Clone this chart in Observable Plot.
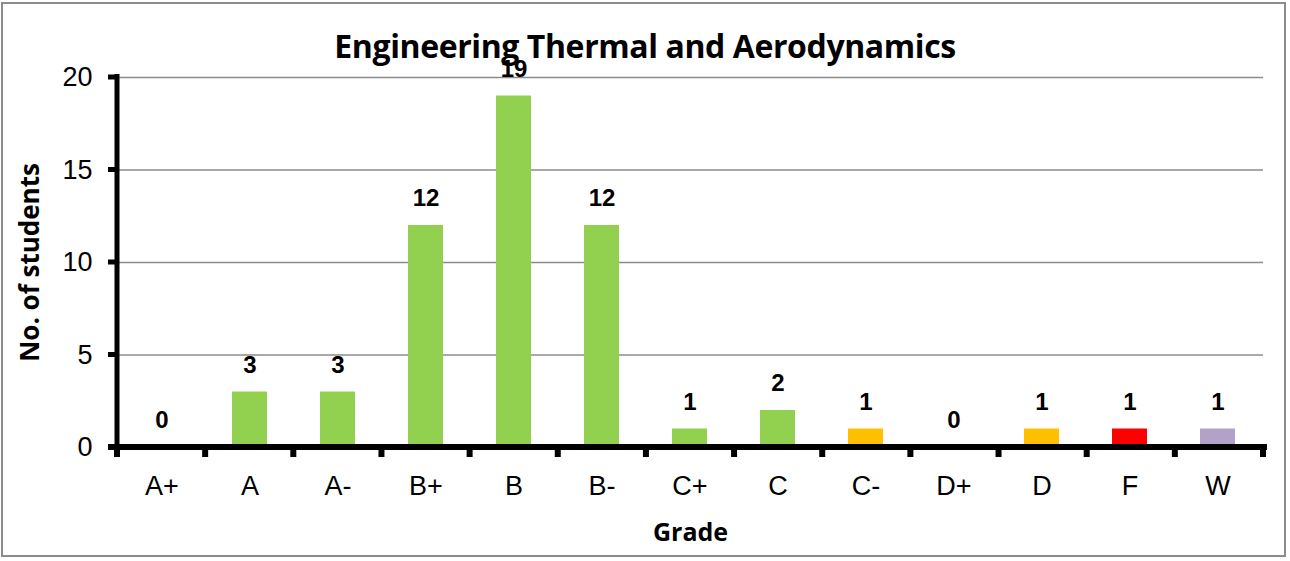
<!DOCTYPE html>
<html>
<head>
<meta charset="utf-8">
<script src="https://cdn.jsdelivr.net/npm/d3@7"></script>
<script src="https://cdn.jsdelivr.net/npm/@observablehq/plot@0.6"></script>
<style>
  html, body { margin: 0; padding: 0; background: #fff; }
  #wrap { position: relative; width: 1290px; height: 561px; }
  #border { position: absolute; left: 1px; top: 2px; width: 1285px; height: 555px; border: 2px solid #8c8c8c; box-sizing: border-box; pointer-events: none; }
  #title { position: absolute; left: 0; width: 1290px; top: 26px; text-align: center; font: bold 32px "Open Sans", sans-serif; letter-spacing: -0.4px; color: #000; line-height: 40px; }
  #chart svg { display: block; }
</style>
</head>
<body>
<div id="wrap">
  <div id="chart"></div>
  <div id="title">Engineering Thermal and Aerodynamics</div>
  <div id="border"></div>
</div>
<script>
const grades = ["A+", "A", "A-", "B+", "B", "B-", "C+", "C", "C-", "D+", "D", "F", "W"];
const counts = [0, 3, 3, 12, 19, 12, 1, 2, 1, 0, 1, 1, 1];
const barColors = ["#92D050", "#92D050", "#92D050", "#92D050", "#92D050", "#92D050", "#92D050", "#92D050", "#FFC000", "#FFC000", "#FFC000", "#FF0000", "#B3A2C7"];
const yTicks = [0, 5, 10, 15, 20];

const data = grades.map((g, i) => ({grade: g, count: counts[i], color: barColors[i]}));
const SANS = "'Liberation Sans', Arial, sans-serif";

function axisLines(index, scales, values, dimensions) {
  const {marginLeft, marginRight, marginTop, marginBottom, width, height} = dimensions;
  const x0 = marginLeft, x1 = width - marginRight, yb = height - marginBottom;
  const g = d3.create("svg:g");
  g.append("line").attr("x1", x0).attr("x2", x0).attr("y1", marginTop - 3).attr("y2", yb + 3)
    .attr("stroke", "#000").attr("stroke-width", 5);
  for (const t of yTicks) {
    const y = scales.y(t);
    g.append("line").attr("x1", x0 - 9).attr("x2", x0).attr("y1", y).attr("y2", y)
      .attr("stroke", "#000").attr("stroke-width", 5);
  }
  g.append("line").attr("x1", x0 - 9).attr("x2", x1 + 4).attr("y1", yb).attr("y2", yb)
    .attr("stroke", "#000").attr("stroke-width", 6);
  for (let i = 0; i <= grades.length; i++) {
    const x = x0 + i * (x1 - x0) / grades.length;
    g.append("line").attr("x1", x).attr("x2", x).attr("y1", yb).attr("y2", yb + 10)
      .attr("stroke", "#000").attr("stroke-width", 6);
  }
  return g.node();
}

const chart = Plot.plot({
  width: 1290,
  height: 561,
  marginLeft: 117,
  marginRight: 27,
  marginTop: 77,
  marginBottom: 114,
  style: {fontFamily: SANS, fontSize: "26px", color: "#000", background: "transparent"},
  x: {domain: grades, paddingInner: 0.6, paddingOuter: 0.3, label: null},
  y: {domain: [0, 20], label: null},
  marks: [
    Plot.gridY(yTicks, {stroke: "#8c8c8c", strokeOpacity: 1, strokeWidth: 1.3}),
    Plot.barY(data, {x: "grade", y: "count", fill: "color"}),
    Plot.text(data, {x: "grade", y: "count", text: d => String(d.count), dy: -27, fontWeight: "bold", fontSize: 24, fontFamily: SANS, fill: "#000"}),
    Plot.axisY(yTicks, {tickSize: 0, tickPadding: 25, fontSize: 27, fontFamily: SANS, label: null}),
    Plot.axisX({tickSize: 0, tickPadding: 28, fontSize: 27, fontFamily: SANS, label: null}),
    axisLines,
    Plot.text(["Grade"], {frameAnchor: "bottom", dy: 93, fontWeight: "bold", fontSize: 25, fontFamily: "'Open Sans', sans-serif"}),
    Plot.text(["No. of students"], {frameAnchor: "left", dx: -87, rotate: -90, textAnchor: "middle", fontWeight: "bold", fontSize: 26, fontFamily: "'Open Sans', sans-serif"})
  ]
});
document.getElementById("chart").appendChild(chart);
</script>
</body>
</html>
